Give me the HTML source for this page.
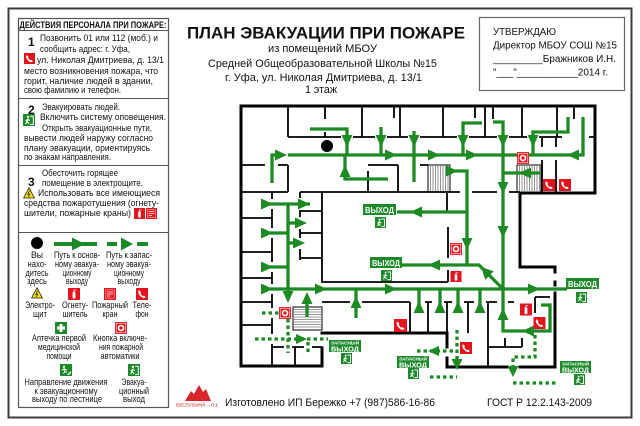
<!DOCTYPE html>
<html><head><meta charset="utf-8">
<style>
html,body{margin:0;padding:0;background:#fff;}
svg{display:block;}
text{font-family:"Liberation Sans",Arial,sans-serif;}
.t{font-size:9.5px;fill:#111;}
.l{font-size:9px;fill:#111;}
.n{font-size:12px;font-weight:bold;fill:#111;}
.s{font-size:11px;fill:#111;}
.a{font-size:10px;fill:#111;}
.sg{font-size:8.5px;font-weight:bold;fill:#fff;}
.sz{font-size:4.6px;font-weight:bold;fill:#fff;}
.sv{font-size:7.2px;font-weight:bold;fill:#fff;}
</style></head><body>
<svg width="640" height="426" viewBox="0 0 640 426" xmlns="http://www.w3.org/2000/svg">
<defs>
<symbol id="ex" viewBox="0 0 12 12"><rect width="12" height="12" fill="#1d8a2a"/><path d="M7 2.2H10.3V10.5H7" stroke="#fff" fill="none" stroke-width="1"/><circle cx="5" cy="2.9" r="1.1" fill="#fff"/><path d="M5 4.4L4.2 7.4L6 9.8M4.2 7.4L2.6 10M4.7 5.4L7 6.6M4.7 5.4L2.6 6.8" stroke="#fff" stroke-width="1.1" fill="none"/></symbol>
<symbol id="st" viewBox="0 0 12 12"><rect width="12" height="12" fill="#1d8a2a"/><circle cx="4" cy="2.8" r="1.1" fill="#fff"/><path d="M4 4.2L5 7.2L7 8.5M5 7.2L3.5 9.8M4.3 5L6.8 5.8M4.3 5L2 6.2M7.5 10.5H9V9H10.5V7.5" stroke="#fff" stroke-width="1" fill="none"/></symbol>
<symbol id="ph" viewBox="0 0 12 12"><rect width="12" height="12" fill="#e3141b"/><path d="M3 2.3Q1.8 3.5 2.7 5.8Q4.5 9.2 7.6 10Q8.9 10.2 9.7 9.1L8.1 7.5L6.9 8.1Q5.1 7.1 4.3 5.1L5.1 4.1Z" fill="#fff"/></symbol>
<symbol id="fb" viewBox="0 0 12 12"><rect width="12" height="12" fill="#e3141b"/><rect x="1.2" y="1.2" width="9.6" height="9.6" fill="none" stroke="#fff" stroke-width="0.6"/><circle cx="6" cy="6" r="3.3" fill="#fff"/><circle cx="6" cy="6" r="1.7" fill="#e3141b"/></symbol>
<symbol id="fe" viewBox="0 0 12 12"><rect width="12" height="12" fill="#e3141b"/><rect x="4.6" y="3.6" width="2.8" height="7" rx="1" fill="#fff"/><path d="M6 3.6V2H8.2" stroke="#fff" stroke-width="0.8" fill="none"/></symbol>
<symbol id="fh" viewBox="0 0 12 12"><rect width="12" height="12" fill="#e3141b"/><rect x="1.8" y="1.8" width="8.4" height="8.4" fill="none" stroke="#f7b0b0" stroke-width="0.7"/><path d="M3 4H9M3 6H9M3 8H6.5" stroke="#fff" stroke-width="0.8"/></symbol>
<symbol id="wr" viewBox="0 0 12 12"><path d="M6 0.8L11.4 11H0.6Z" fill="#f5e000" stroke="#222" stroke-width="0.8"/><path d="M6.6 3.8L4.8 7.3H6.6L5.4 10" stroke="#222" stroke-width="0.8" fill="none"/></symbol>
<symbol id="fa" viewBox="0 0 12 12"><rect width="12" height="12" fill="#1d8a2a"/><path d="M4.5 2H7.5V4.5H10V7.5H7.5V10H4.5V7.5H2V4.5H4.5Z" fill="#fff"/></symbol>
</defs>
<rect width="640" height="426" fill="#fff"/>
<!-- outer frame -->
<rect x="8.5" y="8.5" width="623" height="409" fill="none" stroke="#3c3c3c" stroke-width="2"/>

<!-- LEGEND BOX -->
<rect x="18.5" y="18.5" width="150" height="389" fill="none" stroke="#555" stroke-width="1.2"/>
<path d="M18.5 30.5H168.5M18.5 98.5H168.5M18.5 165.5H168.5M18.5 232.5H168.5" stroke="#555" stroke-width="1.1"/>
<text x="19.5" y="28" font-size="9" font-weight="bold" textLength="147" lengthAdjust="spacingAndGlyphs" fill="#111">ДЕЙСТВИЯ ПЕРСОНАЛА ПРИ ПОЖАРЕ:</text>

<text class="n" x="28" y="46">1</text>
<text class="t" x="40" y="41" textLength="118" lengthAdjust="spacingAndGlyphs">Позвонить 01 или 112 (моб.) и</text>
<text class="t" x="40" y="52" textLength="90" lengthAdjust="spacingAndGlyphs">сообщить адрес: г. Уфа,</text>
<use href="#ph" x="24" y="53" width="11" height="11"/>
<text class="t" x="37" y="63" textLength="127" lengthAdjust="spacingAndGlyphs">ул. Николая Дмитриева, д. 13/1</text>
<text class="t" x="24" y="74" textLength="134" lengthAdjust="spacingAndGlyphs">место возникновения пожара, что</text>
<text class="t" x="24" y="84" textLength="129" lengthAdjust="spacingAndGlyphs">горит, наличие людей в здании,</text>
<text class="t" x="24" y="93" textLength="97" lengthAdjust="spacingAndGlyphs">свою фамилию и телефон.</text>

<text class="n" x="28" y="114">2</text>
<text class="t" x="42" y="110" textLength="78" lengthAdjust="spacingAndGlyphs">Эвакуировать людей.</text>
<use href="#ex" x="23" y="114" width="12" height="12"/>
<text class="t" x="40" y="120" textLength="126" lengthAdjust="spacingAndGlyphs">Включить систему оповещения.</text>
<text class="t" x="42" y="131" textLength="110" lengthAdjust="spacingAndGlyphs">Открыть эвакуационные пути,</text>
<text class="t" x="24" y="141" textLength="129" lengthAdjust="spacingAndGlyphs">вывести людей наружу согласно</text>
<text class="t" x="24" y="151" textLength="126" lengthAdjust="spacingAndGlyphs">плану эвакуации, ориентируясь</text>
<text class="t" x="24" y="160" textLength="87" lengthAdjust="spacingAndGlyphs">по знакам направления.</text>

<text class="n" x="28" y="186">3</text>
<text class="t" x="42" y="176" textLength="76" lengthAdjust="spacingAndGlyphs">Обесточить горящее</text>
<text class="t" x="42" y="186" textLength="101" lengthAdjust="spacingAndGlyphs">помещение в электрощите.</text>
<use href="#wr" x="23" y="187" width="12" height="12"/>
<text class="t" x="38" y="196" textLength="122" lengthAdjust="spacingAndGlyphs">Использовать все имеющиеся</text>
<text class="t" x="24" y="206" textLength="135" lengthAdjust="spacingAndGlyphs">средства пожаротушения (огнету-</text>
<text class="t" x="24" y="216" textLength="107" lengthAdjust="spacingAndGlyphs">шители, пожарные краны)</text>
<use href="#fe" x="134" y="208" width="11" height="11"/>
<use href="#fh" x="146" y="208" width="11" height="11"/>

<!-- legend symbols -->
<circle cx="37" cy="243" r="6" fill="#000"/>
<path d="M54 244H97" stroke="#1d8a2a" stroke-width="4"/>
<polygon points="85,244 72,237.5 72,250.5" fill="#1d8a2a"/>
<path d="M107 244H117M137 244H148" stroke="#1d8a2a" stroke-width="4"/>
<polygon points="133,244 121,237.5 121,250.5" fill="#1d8a2a"/>
<g class="l" text-anchor="middle">
<text class="l" x="37" y="258" textLength="12" lengthAdjust="spacingAndGlyphs">Вы</text>
<text class="l" x="37" y="267" textLength="19" lengthAdjust="spacingAndGlyphs">нахо-</text>
<text class="l" x="37" y="276" textLength="23" lengthAdjust="spacingAndGlyphs">дитесь</text>
<text class="l" x="37" y="284" textLength="20" lengthAdjust="spacingAndGlyphs">здесь</text>
<text class="l" x="77" y="258" textLength="46" lengthAdjust="spacingAndGlyphs">Путь к основ-</text>
<text class="l" x="77" y="267" textLength="44" lengthAdjust="spacingAndGlyphs">ному эвакуа-</text>
<text class="l" x="77" y="276" textLength="29" lengthAdjust="spacingAndGlyphs">ционному</text>
<text class="l" x="77" y="284" textLength="22" lengthAdjust="spacingAndGlyphs">выходу</text>
<text class="l" x="129" y="258" textLength="46" lengthAdjust="spacingAndGlyphs">Путь к запас-</text>
<text class="l" x="129" y="267" textLength="44" lengthAdjust="spacingAndGlyphs">ному эвакуа-</text>
<text class="l" x="129" y="276" textLength="30" lengthAdjust="spacingAndGlyphs">ционному</text>
<text class="l" x="129" y="284" textLength="23" lengthAdjust="spacingAndGlyphs">выходу</text>

<text class="l" x="40" y="308" textLength="30" lengthAdjust="spacingAndGlyphs">Электро-</text>
<text class="l" x="40" y="317" textLength="14" lengthAdjust="spacingAndGlyphs">щит</text>
<text class="l" x="75" y="308" textLength="26" lengthAdjust="spacingAndGlyphs">Огнету-</text>
<text class="l" x="75" y="317" textLength="25" lengthAdjust="spacingAndGlyphs">шитель</text>
<text class="l" x="110" y="308" textLength="36" lengthAdjust="spacingAndGlyphs">Пожарный</text>
<text class="l" x="110" y="317" textLength="15" lengthAdjust="spacingAndGlyphs">кран</text>
<text class="l" x="142" y="308" textLength="19" lengthAdjust="spacingAndGlyphs">Теле-</text>
<text class="l" x="142" y="317" textLength="13" lengthAdjust="spacingAndGlyphs">фон</text>

<text class="l" x="59" y="341" textLength="54" lengthAdjust="spacingAndGlyphs">Аптечка первой</text>
<text class="l" x="59" y="350" textLength="42" lengthAdjust="spacingAndGlyphs">медицинской</text>
<text class="l" x="59" y="359" textLength="25" lengthAdjust="spacingAndGlyphs">помощи</text>
<text class="l" x="120" y="341" textLength="54" lengthAdjust="spacingAndGlyphs">Кнопка включе-</text>
<text class="l" x="121" y="350" textLength="44" lengthAdjust="spacingAndGlyphs">ния пожарной</text>
<text class="l" x="120" y="359" textLength="39" lengthAdjust="spacingAndGlyphs">автоматики</text>

<text class="l" x="66" y="385" textLength="83" lengthAdjust="spacingAndGlyphs">Направление движения</text>
<text class="l" x="66" y="394" textLength="63" lengthAdjust="spacingAndGlyphs">к эвакуационному</text>
<text class="l" x="67" y="402" textLength="70" lengthAdjust="spacingAndGlyphs">выходу по лестнице</text>
<text class="l" x="134" y="385" textLength="25" lengthAdjust="spacingAndGlyphs">Эвакуа-</text>
<text class="l" x="134" y="394" textLength="30" lengthAdjust="spacingAndGlyphs">ционный</text>
<text class="l" x="134" y="402" textLength="22" lengthAdjust="spacingAndGlyphs">выход</text>
</g>
<use href="#wr" x="31" y="287" width="12" height="12"/>
<use href="#fe" x="68" y="288" width="12" height="12"/>
<use href="#fh" x="104" y="288" width="12" height="12"/>
<use href="#ph" x="136" y="288" width="12" height="12"/>
<use href="#fa" x="55" y="322" width="12" height="12"/>
<use href="#fb" x="115" y="322" width="12" height="12"/>
<use href="#st" x="60" y="364" width="12" height="12"/>
<use href="#ex" x="128" y="364" width="12" height="12"/>

<!-- TITLE -->
<text x="326" y="38.5" font-size="16.5" font-weight="bold" text-anchor="middle" textLength="278" lengthAdjust="spacingAndGlyphs" fill="#111">ПЛАН ЭВАКУАЦИИ ПРИ ПОЖАРЕ</text>
<text class="s" x="322.5" y="52" text-anchor="middle" textLength="109" lengthAdjust="spacingAndGlyphs">из помещений МБОУ</text>
<text class="s" x="322.5" y="67" text-anchor="middle" textLength="229" lengthAdjust="spacingAndGlyphs">Средней Общеобразовательной Школы №15</text>
<text class="s" x="323.5" y="81" text-anchor="middle" textLength="197" lengthAdjust="spacingAndGlyphs">г. Уфа, ул. Николая Дмитриева, д. 13/1</text>
<text class="s" x="321" y="93" text-anchor="middle" textLength="32" lengthAdjust="spacingAndGlyphs">1 этаж</text>

<!-- APPROVAL -->
<rect x="479.5" y="17.5" width="145" height="73" fill="none" stroke="#666" stroke-width="1.2"/>
<text class="a" x="493" y="35" textLength="63" lengthAdjust="spacingAndGlyphs">УТВЕРЖДАЮ</text>
<text class="a" x="493" y="48.5" textLength="124" lengthAdjust="spacingAndGlyphs">Директор МБОУ СОШ №15</text>
<text class="a" x="493" y="62" textLength="123" lengthAdjust="spacingAndGlyphs">_________Бражников И.Н.</text>
<text class="a" x="493" y="75.5" textLength="115" lengthAdjust="spacingAndGlyphs">"___"___________2014 г.</text>

<!-- STAIRS -->
<g stroke="#000" stroke-width="1" fill="#fff">
<rect x="428" y="165" width="22" height="27"/>
<rect x="517" y="165" width="24" height="27"/>
<rect x="293" y="307" width="29" height="23"/>
</g>
<g stroke="#777" stroke-width="0.8">
<path d="M430.5 166V191M433 166V191M435.5 166V191M438 166V191M440.5 166V191M443 166V191M445.5 166V191M448 166V191"/>
<path d="M519.5 166V191M522 166V191M524.5 166V191M527 166V191M529.5 166V191M532 166V191M534.5 166V191M537 166V191M539.5 166V191"/>
<path d="M294 309.5H321M294 312H321M294 314.5H321M294 317H321M294 319.5H321M294 322H321M294 324.5H321M294 327H321"/>
</g>

<!-- WALLS -->
<g stroke="#000" fill="none" stroke-width="3" stroke-linecap="square">
<path d="M241 106H595V193H520V267H555V272"/>
<path d="M555 282V285"/>
<path d="M555 293V367H520"/>
<path d="M507 367H447V358"/>
<path d="M447 347V333H322"/>
<path d="M322 348V366H241V106"/>
</g>
<g stroke="#000" fill="none" stroke-width="1.8">
<path d="M288 106V137M325 106V119M325 132V137M362 106V137M394 106V118M400 106V137M443 106V137M475 106V118M485 106V137M493 106V119M522 106V137M557 106V137M574 106V119"/>
<path d="M288 137H341M353 137H375M387 137H408M420 137H457M469 137H497M509 137H527M539 137H562M589 137H595"/>
<path d="M241 165H265M278 165H288M288 165V192M241 192H288"/>
<path d="M300 192H460M472 192H497M509 192H520"/>
<path d="M368 165H398M368 171V192M398 165V192M420 165H428"/>
<path d="M542 138V147M542 160V192M556 138V147M556 160V192"/>
<path d="M272 192V199M272 209V228M272 238V262M272 272V284M272 294V308M272 318V334M272 344V366"/>
<path d="M241 218H272M241 252H272M241 278H272M241 302H272M241 325H272"/>
<path d="M300 192V198M300 210V217M300 229V238M300 249V260"/>
<path d="M300 211H322M300 233H322M300 258H322"/>
<path d="M322 192V282H448M448 270V282M448 227V258M447 193V213"/>
<path d="M322 302H350M362 302H410M425 302H432M444 302H452M464 302H474M486 302H497M508 302H514"/>
<path d="M410 302V333M428 302V333M447 302V333M468 302V333M488 302V367"/>
<path d="M488 347H522M505 338V347M522 338V347"/>
<path d="M535 297V313M535 297H550"/>
<path d="M272 347H284M292 347H304M312 347H322M295 347V366"/>
</g>

<!-- GREEN SOLID PATHS -->
<g stroke="#1d8a24" stroke-width="3.3" fill="none" stroke-linejoin="miter">
<path d="M272 183V155H280"/>
<path d="M288 155H583V117"/>
<path d="M310 129H347V155"/>
<path d="M388 179H345V155"/>
<path d="M381 127V155"/>
<path d="M414 131V182"/>
<path d="M482 123H463V155"/>
<path d="M493 122H503V331H550V305H541"/>
<path d="M568 117V132H533V155"/>
<path d="M540 173H503"/>
<path d="M450 171H467V265H402"/>
<path d="M467 212H397"/>
<path d="M467 265H479L503 289"/>
<path d="M262 289H567"/>
<path d="M262 204H310"/>
<path d="M288 204V295"/>
<path d="M288 223H300"/>
<path d="M262 233H288"/>
<path d="M288 243H298"/>
<path d="M262 267H288"/>
<path d="M307 317V300"/>
<path d="M356 318V289"/>
<path d="M419 289V305M440 289V305M458 289V305M480 289V305"/>
</g>
<!-- GREEN DOTTED -->
<g stroke="#1d8a24" stroke-width="3.3" fill="none" stroke-dasharray="3.5,3">
<path d="M262 313H279"/>
<path d="M288 319V353"/>
<path d="M255 339H328"/>
<path d="M308 342V353"/>
<path d="M417 351H457"/>
<path d="M457 330V362"/>
<path d="M430 377H457"/>
<path d="M535 335V357H513V368"/>
<path d="M513 383H557"/>
</g>
<!-- ARROWHEADS -->
<g fill="#1d8a24">
<polygon points="287,155 275,149.5 275,160.5"/>
<polygon points="397,155 385,149.5 385,160.5"/>
<polygon points="440,155 428,149.5 428,160.5"/>
<polygon points="478,155 466,149.5 466,160.5"/>
<polygon points="458,171 446,165.5 446,176.5"/>
<polygon points="273,289 261,283.5 261,294.5"/>
<polygon points="327,289 315,283.5 315,294.5"/>
<polygon points="397,289 385,283.5 385,294.5"/>
<polygon points="540,289 528,283.5 528,294.5"/>
<polygon points="273,204 261,198.5 261,209.5"/>
<polygon points="310,204 298,198.5 298,209.5"/>
<polygon points="307,223 295,217.5 295,228.5"/>
<polygon points="273,233 261,227.5 261,238.5"/>
<polygon points="305,243 293,237.5 293,248.5"/>
<polygon points="273,267 261,261.5 261,272.5"/>
<polygon points="307,339 296,334 296,344"/>
<polygon points="567,155 579,149.5 579,160.5"/>
<polygon points="519,173 531,167.5 531,178.5"/>
<polygon points="410,212 422,206.5 422,217.5"/>
<polygon points="428,265 440,259.5 440,270.5"/>
<polygon points="522,331 534,325.5 534,336.5"/>
<polygon points="428,351 439,346 439,356"/>
<polygon points="347,147 341.5,135 352.5,135"/>
<polygon points="381,147 375.5,135 386.5,135"/>
<polygon points="414,147 408.5,135 419.5,135"/>
<polygon points="463,147 457.5,135 468.5,135"/>
<polygon points="503,147 497.5,135 508.5,135"/>
<polygon points="533,147 527.5,135 538.5,135"/>
<polygon points="503,194 497.5,182 508.5,182"/>
<polygon points="503,238 497.5,226 508.5,226"/>
<polygon points="467,250 461.5,238 472.5,238"/>
<polygon points="288,303 282.5,291 293.5,291"/>
<polygon points="457,370 451.5,359 462.5,359"/>
<polygon points="513,377 507.5,366 518.5,366"/>
<polygon points="345,165 339.5,177 350.5,177"/>
<polygon points="307,292 301.5,304 312.5,304"/>
<polygon points="356,296 350.5,308 361.5,308"/>
<polygon points="419,301 413.5,313 424.5,313"/>
<polygon points="440,301 434.5,313 445.5,313"/>
<polygon points="458,301 452.5,313 463.5,313"/>
<polygon points="480,301 474.5,313 485.5,313"/>
<polygon points="503,308 497.5,320 508.5,320"/>
<polygon points="481,267 493.7,271.3 485.3,279.7"/>
</g>

<!-- you are here -->
<circle cx="327" cy="146" r="6" fill="#000"/>

<!-- SIGNS -->
<rect x="363" y="204" width="33" height="11" fill="#1d8a2a"/>
<text class="sg" x="379.5" y="213" text-anchor="middle" textLength="29" lengthAdjust="spacingAndGlyphs">ВЫХОД</text>
<use href="#ex" x="375" y="217" width="11" height="11"/>
<rect x="370" y="257" width="32" height="11" fill="#1d8a2a"/>
<text class="sg" x="386" y="266" text-anchor="middle" textLength="28" lengthAdjust="spacingAndGlyphs">ВЫХОД</text>
<use href="#ex" x="381" y="270" width="11" height="11"/>
<rect x="566" y="278" width="33" height="11" fill="#1d8a2a"/>
<text class="sg" x="582.5" y="287" text-anchor="middle" textLength="29" lengthAdjust="spacingAndGlyphs">ВЫХОД</text>
<use href="#ex" x="576" y="292" width="11" height="11"/>

<rect x="329" y="340" width="32" height="12" fill="#1d8a2a"/>
<text class="sz" x="345" y="344.6" text-anchor="middle" textLength="28" lengthAdjust="spacingAndGlyphs">ЗАПАСНЫЙ</text>
<text class="sv" x="345" y="351.3" text-anchor="middle" textLength="28" lengthAdjust="spacingAndGlyphs">ВЫХОД</text>
<use href="#ex" x="341" y="353" width="11" height="11"/>
<rect x="397" y="356" width="32" height="12" fill="#1d8a2a"/>
<text class="sz" x="413" y="360.6" text-anchor="middle" textLength="28" lengthAdjust="spacingAndGlyphs">ЗАПАСНЫЙ</text>
<text class="sv" x="413" y="367.3" text-anchor="middle" textLength="28" lengthAdjust="spacingAndGlyphs">ВЫХОД</text>
<use href="#ex" x="408" y="368" width="11" height="11"/>
<rect x="560" y="361" width="31" height="12" fill="#1d8a2a"/>
<text class="sz" x="575.5" y="365.6" text-anchor="middle" textLength="27" lengthAdjust="spacingAndGlyphs">ЗАПАСНЫЙ</text>
<text class="sv" x="575.5" y="372.3" text-anchor="middle" textLength="27" lengthAdjust="spacingAndGlyphs">ВЫХОД</text>
<use href="#ex" x="574" y="374" width="11" height="11"/>

<!-- RED ICONS -->
<use href="#fb" x="517" y="152" width="12" height="12"/>
<use href="#fb" x="450" y="243" width="12" height="12"/>
<use href="#fb" x="279" y="307" width="12" height="12"/>
<use href="#ph" x="543" y="179" width="12" height="12"/>
<use href="#ph" x="559" y="179" width="12" height="12"/>
<use href="#ph" x="394" y="319" width="13" height="13"/>
<use href="#ph" x="460" y="342" width="12" height="12"/>
<use href="#ph" x="533" y="317" width="13" height="12"/>
<use href="#fe" x="450" y="271" width="12" height="11"/>
<use href="#fe" x="520" y="303" width="12" height="13"/>

<!-- FOOTER -->
<polygon points="185,401 191,391 194,394 199,385 203,392 206,389 211,401" fill="#d8262b"/>
<text x="176" y="406.5" font-size="4.6" fill="#d8262b" textLength="42" lengthAdjust="spacingAndGlyphs">ВЕЗУВИЙ - 01</text>
<text x="225" y="406" font-size="11" fill="#111" textLength="210" lengthAdjust="spacingAndGlyphs">Изготовлено ИП Бережко +7 (987)586-16-86</text>
<text x="487" y="406" font-size="11" fill="#111" textLength="105" lengthAdjust="spacingAndGlyphs">ГОСТ Р 12.2.143-2009</text>
</svg>
</body></html>
